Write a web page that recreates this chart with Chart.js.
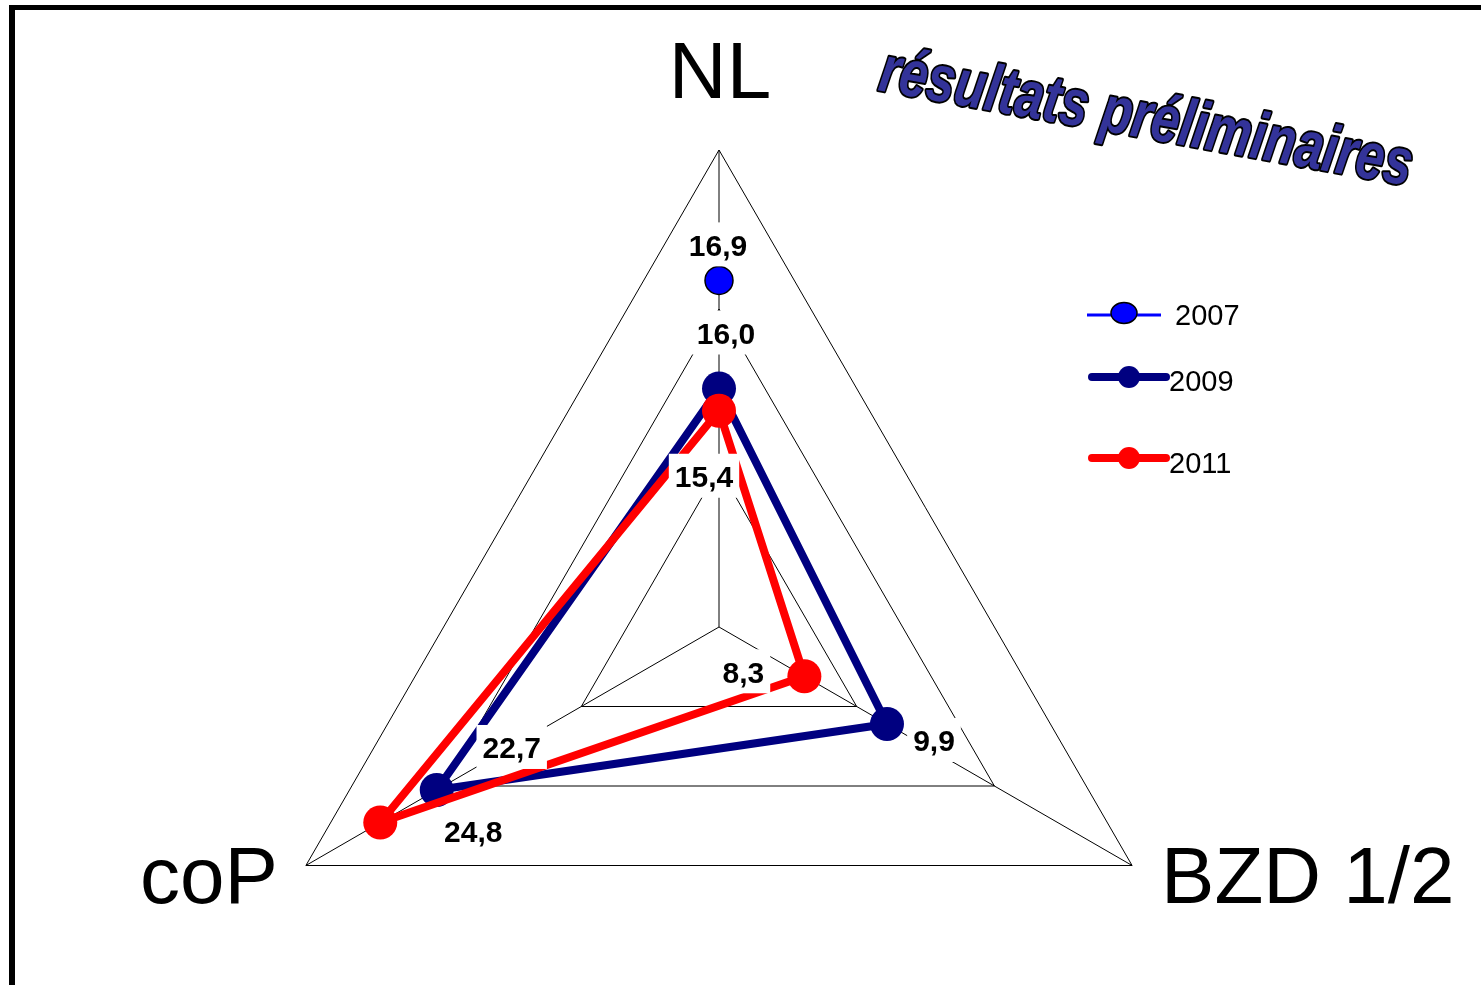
<!DOCTYPE html>
<html>
<head>
<meta charset="utf-8">
<title>résultats préliminaires</title>
<script src="https://cdn.jsdelivr.net/npm/chart.js@4.4.1/dist/chart.umd.min.js"></script>
<style>
    html, body { margin: 0; padding: 0; background: #fff; overflow: hidden; }
    #frame { position: absolute; left: 9px; top: 5px; width: 1600px; height: 1100px; border-top: 5px solid #000; border-left: 6px solid #000; }
    #chart-box { position: absolute; left: 0; top: 0; width: 1481px; height: 1104px; }
</style>
</head>
<body>
<div id="frame"></div>
<div id="chart-box"><canvas id="radarChart"></canvas></div>
<script>
// Axes and series
var axes = ['NL', 'BZD 1/2', 'coP'];
var years = ['2007', '2009', '2011'];

// Printed values (data labels)
var values2007 = [16.9, null, null];
var values2009 = [16.0, 9.9, 22.7];
var values2011 = [15.4, 8.3, 24.8];

// Radial positions (scale 0-30)
var plot2007 = [21.8, null, null];
var plot2009 = [15.0, 12.2, 20.5];
var plot2011 = [13.6, 6.2, 24.6];
var ringTicks = [0, 10, 20, 30];

var pageTitle = 'résultats préliminaires';

// Layout bits (offsets from the point, in px)
var labelOffsets = [
    [[-1, -34], null, null],
    [[7, -54], [47, 18], [75, -41]],
    [[-15, 67], [-61, -3], [93, 10]]
];
var legendRows = [
    { y: 315, x1: 1087, x2: 1161, tx: 1175, ty: 325 },
    { y: 377, x1: 1092, x2: 1166, tx: 1169, ty: 391 },
    { y: 458, x1: 1092, x2: 1166, tx: 1169, ty: 473 }
];

function fmt(v) {
    return v.toFixed(1).replace('.', ',');
}

var dataLabelsPlugin = {
    id: 'dataLabels',
    afterDatasetsDraw: function(chart) {
        var ctx = chart.ctx;
        ctx.save();
        ctx.font = 'bold 30px "Liberation Sans", Arial, sans-serif';
        ctx.textAlign = 'center';
        ctx.textBaseline = 'middle';
        chart.data.datasets.forEach(function(ds, di) {
            var meta = chart.getDatasetMeta(di);
            ds.printed.forEach(function(v, i) {
                if (v === null) return;
                var pt = meta.data[i];
                var off = labelOffsets[di][i];
                var x = pt.x + off[0];
                var y = pt.y + off[1];
                var txt = fmt(v);
                var w = ctx.measureText(txt).width + 12;
                ctx.fillStyle = '#fff';
                ctx.fillRect(x - w / 2, y - 24, w, 44);
                ctx.fillStyle = '#000';
                ctx.fillText(txt, x, y + 1);
            });
        });
        ctx.restore();
    }
};

var decorPlugin = {
    id: 'decor',
    afterDraw: function(chart) {
        var ctx = chart.ctx;
        var scale = chart.scales.r;
        ctx.save();

        // axis names
        ctx.fillStyle = '#000';
        ctx.font = '80px "Liberation Sans", Arial, sans-serif';
        ctx.textBaseline = 'alphabetic';
        var top = scale.getPointPositionForValue(0, scale.max);
        var right = scale.getPointPositionForValue(1, scale.max);
        var left = scale.getPointPositionForValue(2, scale.max);
        ctx.textAlign = 'center';
        ctx.fillText(axes[0], top.x + 1, top.y - 52);
        ctx.textAlign = 'left';
        ctx.fillText(axes[1], right.x + 29, right.y + 37);
        ctx.textAlign = 'right';
        ctx.fillText(axes[2], left.x - 28, left.y + 37);

        // legend
        chart.data.datasets.forEach(function(ds, di) {
            var row = legendRows[di];
            var mx = (row.x1 + row.x2) / 2;
            ctx.strokeStyle = ds.borderColor;
            ctx.lineWidth = di === 0 ? 3 : 8;
            ctx.lineCap = di === 0 ? 'butt' : 'round';
            ctx.beginPath();
            ctx.moveTo(row.x1, row.y);
            ctx.lineTo(row.x2, row.y);
            ctx.stroke();
            ctx.beginPath();
            if (di === 0) {
                ctx.ellipse(mx, row.y - 2, 13, 10.5, 0, 0, Math.PI * 2);
            } else {
                ctx.arc(mx, row.y, 11, 0, Math.PI * 2);
            }
            ctx.fillStyle = ds.pointBackgroundColor;
            ctx.fill();
            if (di === 0) {
                ctx.lineWidth = 1.5;
                ctx.strokeStyle = '#000';
                ctx.stroke();
            }
            ctx.fillStyle = '#000';
            ctx.font = '29px "Liberation Sans", Arial, sans-serif';
            ctx.textAlign = 'left';
            ctx.fillText(ds.label, row.tx, row.ty);
        });

        // word-art title
        ctx.translate(877, 90);
        ctx.rotate(10.2 * Math.PI / 180);
        ctx.font = 'italic bold 66px "Liberation Sans Narrow", "Liberation Sans", sans-serif';
        var tw = ctx.measureText(pageTitle).width;
        ctx.scale(540 / tw, 1);
        ctx.lineJoin = 'round';
        ctx.lineWidth = 4;
        ctx.strokeStyle = '#000';
        ctx.textAlign = 'left';
        ctx.strokeText(pageTitle, 0, 0);
        ctx.fillStyle = '#333399';
        ctx.fillText(pageTitle, 0, 0);

        ctx.restore();
    }
};

Chart.defaults.font.family = '"Liberation Sans", Arial, sans-serif';

var radarChart = new Chart(document.getElementById('radarChart'), {
    type: 'radar',
    data: {
        labels: axes,
        datasets: [{
            label: years[0],
            data: plot2007,
            printed: values2007,
            order: 0,
            borderColor: '#0000FF',
            borderWidth: 3,
            pointBackgroundColor: '#0000FF',
            pointBorderColor: '#000',
            pointBorderWidth: 1.5,
            pointRadius: 14,
            fill: false
        }, {
            label: years[1],
            data: plot2009,
            printed: values2009,
            order: 2,
            borderColor: '#000080',
            borderWidth: 8,
            borderJoinStyle: 'round',
            pointBackgroundColor: '#000080',
            pointBorderWidth: 0,
            pointRadius: 17,
            fill: false
        }, {
            label: years[2],
            data: plot2011,
            printed: values2011,
            order: 1,
            borderColor: '#FF0000',
            borderWidth: 8,
            borderJoinStyle: 'round',
            pointBackgroundColor: '#FF0000',
            pointBorderWidth: 0,
            pointRadius: 17,
            fill: false
        }]
    },
    options: {
        responsive: true,
        maintainAspectRatio: false,
        animation: false,
        layout: {
            padding: { left: 242, right: 285, top: 150, bottom: 0 }
        },
        elements: {
            line: { tension: 0 }
        },
        plugins: {
            legend: { display: false },
            tooltip: { enabled: false }
        },
        scales: {
            r: {
                min: ringTicks[0],
                max: ringTicks[ringTicks.length - 1],
                startAngle: 0,
                ticks: { display: false, stepSize: ringTicks[1] - ringTicks[0] },
                grid: { color: '#000', lineWidth: 1 },
                angleLines: { color: '#000', lineWidth: 1 },
                pointLabels: { display: false }
            }
        }
    },
    plugins: [dataLabelsPlugin, decorPlugin]
});
</script>
</body>
</html>
